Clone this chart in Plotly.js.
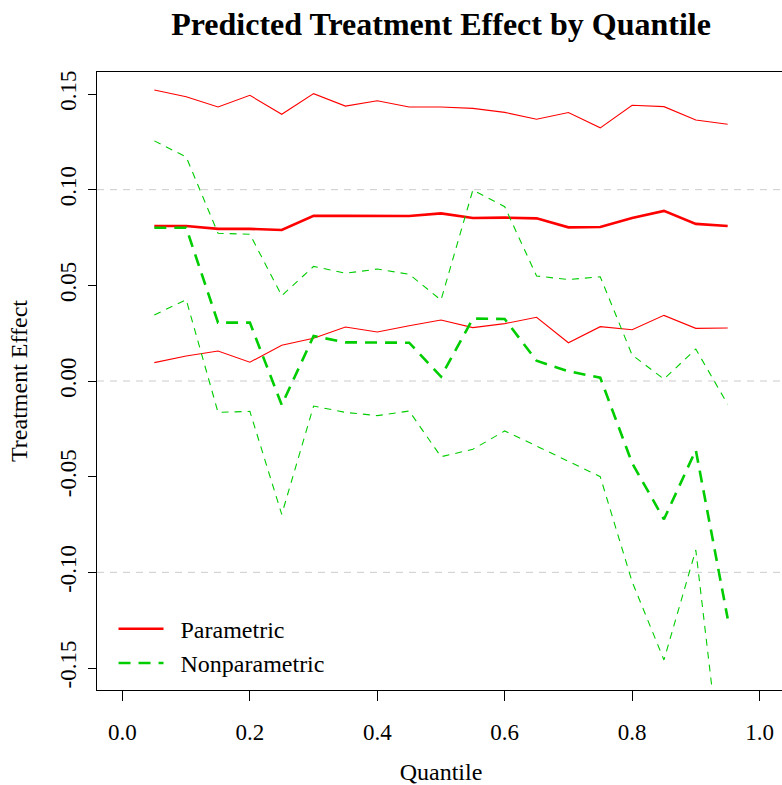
<!DOCTYPE html>
<html>
<head>
<meta charset="utf-8">
<script src="https://cdn.plot.ly/plotly-3.0.1.min.js"></script>
<style>
  html, body { margin: 0; padding: 0; overflow: hidden; background: #fff; }
  #chart { width: 785px; height: 785px; }
</style>
</head>
<body>
<div id="chart"></div>
<script>
// ---- data ----
var quantiles = [0.05, 0.10, 0.15, 0.20, 0.25, 0.30, 0.35, 0.40, 0.45, 0.50,
                 0.55, 0.60, 0.65, 0.70, 0.75, 0.80, 0.85, 0.90, 0.95];

var paramMid   = [0.0810, 0.0810, 0.0795, 0.0795, 0.0789, 0.0864, 0.0863, 0.0862, 0.0862, 0.0876,
                  0.0852, 0.0854, 0.0850, 0.0803, 0.0805, 0.0852, 0.0889, 0.0821, 0.0810];
var paramUpper = [0.1521, 0.1486, 0.1432, 0.1493, 0.1394, 0.1502, 0.1437, 0.1465, 0.1432, 0.1432,
                  0.1425, 0.1404, 0.1368, 0.1403, 0.1323, 0.1441, 0.1434, 0.1364, 0.1342];
var paramLower = [0.0096, 0.0131, 0.0157, 0.0098, 0.0187, 0.0223, 0.0282, 0.0256, 0.0289, 0.0319,
                  0.0279, 0.0300, 0.0333, 0.0200, 0.0284, 0.0268, 0.0343, 0.0275, 0.0277];

var npMid   = [0.0801, 0.0801, 0.0305, 0.0305, -0.0125, 0.0235, 0.0202, 0.0200, 0.0200, 0.0023,
               0.0326, 0.0324, 0.0106, 0.0051, 0.0017, -0.0429, -0.0723, -0.0361, -0.1241];
var npUpper = [0.1255, 0.1171, 0.0772, 0.0767, 0.0446, 0.0599, 0.0563, 0.0585, 0.0558, 0.0423,
               0.0998, 0.0911, 0.0549, 0.0530, 0.0545, 0.0136, 0.0010, 0.0167, -0.0122];
var npLower = [0.0345, 0.0425, -0.0164, -0.0159, -0.0697, -0.0131, -0.0164, -0.0181, -0.0157, -0.0396,
               -0.0357, -0.0261, -0.0340, -0.0422, -0.0500, -0.1049, -0.1458, -0.0883, -0.2307];

var refLines = [-0.10, 0.00, 0.10];

var xTickVals = [0.0, 0.2, 0.4, 0.6, 0.8, 1.0];
var xTickText = ["0.0", "0.2", "0.4", "0.6", "0.8", "1.0"];
var yTickVals = [-0.15, -0.10, -0.05, 0.00, 0.05, 0.10, 0.15];
var yTickText = ["-0.15", "-0.10", "-0.05", "0.00", "0.05", "0.10", "0.15"];

// ---- styles ----
var RED = "#FF0000";
var GREEN = "#00CD00";
var FONT = "Liberation Serif, Times New Roman, serif";
var PAD = "\u00A0\u00A0";

function tr(y, name, color, width, dash, group, show) {
  return {
    x: quantiles, y: y, type: "scatter", mode: "lines", name: name,
    line: { color: color, width: width, dash: dash },
    legendgroup: group, showlegend: show, hoverinfo: "skip"
  };
}

var data = [
  tr(paramUpper, "Parametric upper", RED, 1.1, "solid", "p", false),
  tr(paramLower, "Parametric lower", RED, 1.1, "solid", "p", false),
  tr(paramMid, PAD + "Parametric", RED, 2.6, "solid", "p", true),
  tr(npUpper, "Nonparametric upper", GREEN, 1.1, "7px,6px", "np", false),
  tr(npLower, "Nonparametric lower", GREEN, 1.1, "7px,6px", "np", false),
  tr(npMid, PAD + "Nonparametric", GREEN, 2.6, "12px,8px", "np", true)
];

var shapes = refLines.map(function (v) {
  return {
    type: "line", xref: "paper", x0: 0, x1: 1, yref: "y", y0: v, y1: v,
    line: { color: "#CCCCCC", width: 1, dash: "7px,6px" }, layer: "below"
  };
});

var layout = {
  width: 785, height: 785,
  margin: { l: 97, r: 0, t: 72, b: 95 },
  paper_bgcolor: "#fff", plot_bgcolor: "#fff",
  font: { family: FONT, size: 24, color: "#000" },
  title: {
    text: "<b>Predicted Treatment Effect by Quantile</b>",
    font: { family: FONT, size: 32, color: "#000" },
    x: 0.5, xref: "paper", xanchor: "center",
    y: 1 - 24 / 785, yref: "container", yanchor: "middle"
  },
  xaxis: {
    range: [-0.04, 1.04], showgrid: false, zeroline: false,
    showline: true, mirror: true, linecolor: "#000", linewidth: 1,
    ticks: "outside", ticklen: 10, tickcolor: "#000", tickwidth: 1,
    tickvals: xTickVals, ticktext: xTickText, ticklabelstandoff: 11,
    tickfont: { family: FONT, size: 23, color: "#000" },
    title: { text: "Quantile", font: { family: FONT, size: 24, color: "#000" }, standoff: 23 }
  },
  yaxis: {
    range: [-0.1615, 0.1615], showgrid: false, zeroline: false,
    showline: true, mirror: true, linecolor: "#000", linewidth: 1,
    ticks: "outside", ticklen: 8, tickcolor: "#000", tickwidth: 1,
    tickvals: yTickVals, ticktext: yTickText, tickangle: -90, ticklabelstandoff: 3,
    tickfont: { family: FONT, size: 23, color: "#000" },
    title: { text: "Treatment Effect", font: { family: FONT, size: 24, color: "#000" }, standoff: 21 }
  },
  shapes: shapes,
  showlegend: true,
  legend: {
    x: 0.024, y: 0.007, xanchor: "left", yanchor: "bottom",
    bgcolor: "rgba(0,0,0,0)", borderwidth: 0,
    font: { family: FONT, size: 24, color: "#000" },
    traceorder: "grouped", tracegroupgap: 0, itemwidth: 45
  }
};

Plotly.newPlot("chart", data, layout, { displayModeBar: false, staticPlot: true });
</script>
</body>
</html>
